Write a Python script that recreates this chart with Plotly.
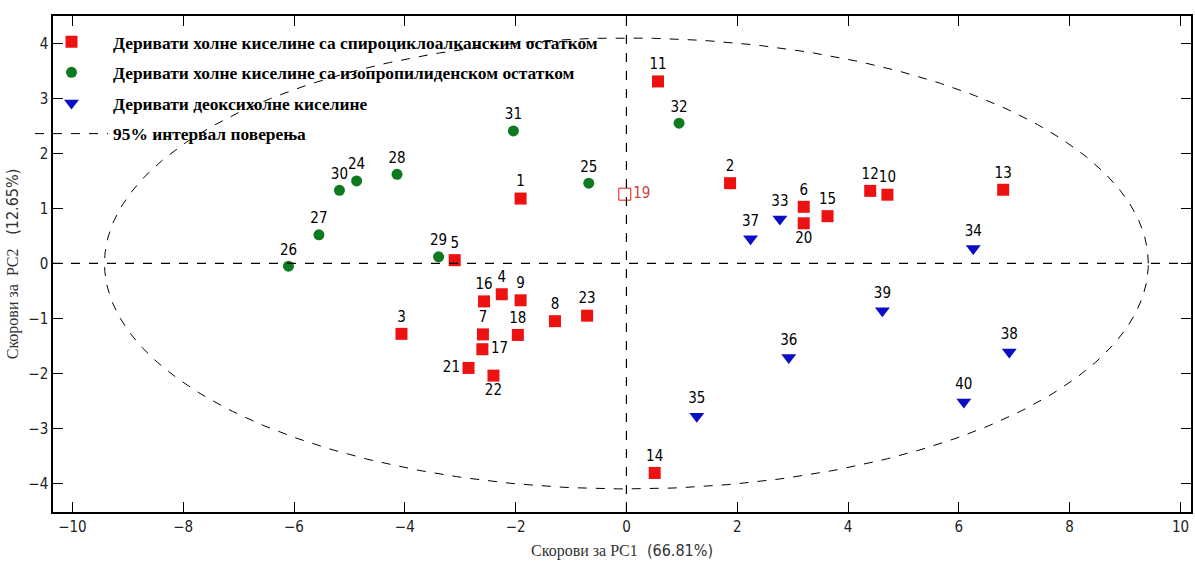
import numpy as np
import plotly.graph_objects as go

# ---- data ----
s1_ids = ["1", "2", "3", "4", "5", "6", "7", "8", "9", "10", "11", "12",
          "13", "14", "15", "16", "17", "18", "19", "20", "21", "22", "23"]
s1_x = [-1.91, 1.87, -4.06, -2.25, -3.10, 3.20, -2.59, -1.29, -1.91, 4.71, 0.57, 4.40,
        6.80, 0.51, 3.63, -2.57, -2.60, -1.96, -0.03, 3.20, -2.85, -2.40, -0.71]
s1_y = [1.18, 1.46, -1.28, -0.56, 0.06, 1.03, -1.29, -1.05, -0.67, 1.25, 3.31, 1.32,
        1.34, -3.81, 0.86, -0.69, -1.56, -1.30, 1.26, 0.73, -1.90, -2.04, -0.95]

s2_ids = ["24", "25", "26", "27", "28", "29", "30", "31", "32"]
s2_x = [-4.87, -0.68, -6.10, -5.55, -4.14, -3.39, -5.18, -2.04, 0.95]
s2_y = [1.50, 1.46, -0.05, 0.52, 1.62, 0.12, 1.33, 2.41, 2.55]

s3_ids = ["33", "34", "35", "36", "37", "38", "39", "40"]
s3_x = [2.77, 6.26, 1.27, 2.93, 2.24, 6.91, 4.62, 6.09]
s3_y = [0.81, 0.27, -2.78, -1.71, 0.45, -1.61, -0.86, -2.52]

ellipse_a = 9.42   # 95% confidence ellipse semi-axis along PC1
ellipse_b = 4.10   # along PC2

series_names = [
    "Деривати холне киселине са спироциклоалканским остатком",
    "Деривати холне киселине са изопропилиденском остатком",
    "Деривати деоксихолне киселине",
    "95% интервал поверења",
]

x_ticks = [-10, -8, -6, -4, -2, 0, 2, 4, 6, 8, 10]
y_ticks = [-4, -3, -2, -1, 0, 1, 2, 3, 4]

# ---- styling ----
NUM_FONT = "Liberation Sans Narrow, DejaVu Sans Condensed, Arial Narrow, sans-serif"
SERIF = "Liberation Serif, Times New Roman, serif"

special_pos = {"17": "middle right", "19": "middle right", "20": "bottom center",
               "21": "middle left", "22": "bottom center"}


def positions(ids):
    return [special_pos.get(i, "top center") for i in ids]


s1_symbols = ["square-open" if i == "19" else "square" for i in s1_ids]
s1_text_colors = ["#d04040" if i == "19" else "black" for i in s1_ids]

fig = go.Figure()

fig.add_trace(go.Scatter(
    x=s1_x, y=s1_y, mode="markers+text", text=s1_ids,
    textposition=positions(s1_ids),
    textfont=dict(family=NUM_FONT, size=15, color=s1_text_colors),
    marker=dict(symbol=s1_symbols, size=12, color="#ee1111",
                line=dict(width=0)),
    name=series_names[0], legendgroup="a"))

fig.add_trace(go.Scatter(
    x=s2_x, y=s2_y, mode="markers+text", text=s2_ids,
    textposition=positions(s2_ids),
    textfont=dict(family=NUM_FONT, size=15, color="black"),
    marker=dict(symbol="circle", size=11, color="#0d7a1f", line=dict(width=0)),
    name=series_names[1], legendgroup="b"))

fig.add_trace(go.Scatter(
    x=s3_x, y=s3_y, mode="markers+text", text=s3_ids,
    textposition=positions(s3_ids),
    textfont=dict(family=NUM_FONT, size=15, color="black"),
    marker=dict(symbol="triangle-down", size=13, color="#0a0fc4", line=dict(width=0)),
    name=series_names[2], legendgroup="c"))

t = np.linspace(0, 2 * np.pi, 361)
fig.add_trace(go.Scatter(
    x=ellipse_a * np.cos(t), y=ellipse_b * np.sin(t), mode="lines",
    line=dict(color="black", width=1, dash="dash"),
    name=series_names[3], legendgroup="d", hoverinfo="skip"))

# zero reference lines
fig.add_shape(type="line", xref="paper", yref="y", x0=0, x1=1, y0=0, y1=0,
              line=dict(color="black", width=1.2, dash="dash"))
fig.add_shape(type="line", xref="x", yref="paper", x0=0, x1=0, y0=0, y1=1,
              line=dict(color="black", width=1.2, dash="dash"))

axis_common = dict(
    showgrid=False, zeroline=False, showline=True, linecolor="black", linewidth=1.5,
    mirror="ticks", ticks="inside", ticklen=10, tickcolor="black",
    tickfont=dict(family=NUM_FONT, size=15, color="#222"),
)

fig.update_layout(
    width=1195, height=564,
    margin=dict(l=53, r=2, t=16, b=52),
    paper_bgcolor="white", plot_bgcolor="white",
    showlegend=True,
    legend=dict(x=-0.0202, y=0.984, xanchor="left", yanchor="top",
                bgcolor="rgba(0,0,0,0)", borderwidth=0,
                font=dict(family=SERIF, size=17.4, color="black", weight="bold"),
                tracegroupgap=5, itemwidth=73),
    xaxis=dict(range=[-10.35, 10.19], tickvals=x_ticks,
               title=dict(text="<span style='font-family:Liberation Serif'>Скорови за PC1</span>  (66.81%)",
                          font=dict(family=NUM_FONT, size=16, color="#333"), standoff=10),
               **axis_common),
    yaxis=dict(range=[-4.52, 4.5], tickvals=y_ticks,
               title=dict(text="<span style='font-family:Liberation Serif'>Скорови за  PC2</span>   (12.65%)",
                          font=dict(family=NUM_FONT, size=16, color="#333"), standoff=6),
               **axis_common),
)

fig.write_html("out.html")
